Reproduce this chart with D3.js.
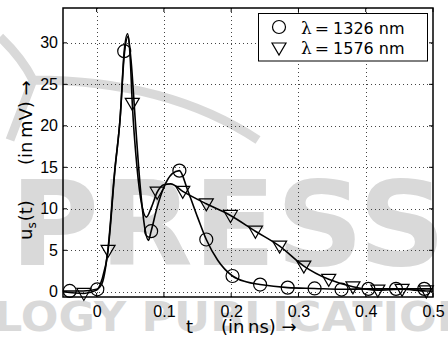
<!DOCTYPE html>
<html>
<head>
<meta charset="utf-8">
<script src="https://cdn.jsdelivr.net/npm/d3@7"></script>
<style>
body { margin: 0; background: #fff; }
svg { display: block; font-family: "Liberation Sans", Arial, sans-serif; }
</style>
</head>
<body>
<div id="chart"></div>
<script>
// markers
var circT = [-0.04, 0.001, 0.041, 0.081, 0.123, 0.163, 0.202, 0.243, 0.284, 0.324, 0.364, 0.404, 0.445, 0.487];
var circV = [0.1, 0.3, 29.0, 7.3, 14.6, 6.3, 1.9, 0.87, 0.5, 0.4, 0.27, 0.35, 0.35, 0.35];
var triT = [-0.019, 0.017, 0.053, 0.09, 0.128, 0.163, 0.199, 0.236, 0.272, 0.308, 0.345, 0.381, 0.418, 0.454, 0.49];
var triV = [-0.2, 5.0, 22.7, 12.0, 12.1, 10.6, 9.2, 7.3, 5.5, 3.1, 1.5, 0.6, 0.2, 0.3, 0.1];

// curves through the samples (estimated)
var circLineT = [-0.05, -0.04, -0.02, 0.0, 0.008, 0.016, 0.027, 0.035, 0.041, 0.046, 0.051, 0.058, 0.065, 0.072, 0.077, 0.081, 0.09, 0.1, 0.112, 0.123, 0.135, 0.15, 0.163, 0.18, 0.202, 0.222, 0.243, 0.284, 0.324, 0.364, 0.404, 0.445, 0.487, 0.5];
var circLineV = [0.1, 0.1, 0.1, 0.3, 1.0, 4.5, 14.7, 21, 29.0, 31.1, 28, 20, 12.5, 7.5, 6.2, 7.3, 10.2, 12.6, 14.2, 14.6, 12.3, 9.0, 6.3, 3.8, 1.9, 1.2, 0.87, 0.5, 0.4, 0.3, 0.35, 0.35, 0.35, 0.35];
var triLineT = [-0.05, -0.019, 0.0, 0.008, 0.017, 0.027, 0.035, 0.041, 0.047, 0.05, 0.053, 0.06, 0.067, 0.074, 0.082, 0.09, 0.1, 0.11, 0.128, 0.163, 0.199, 0.236, 0.272, 0.308, 0.345, 0.381, 0.418, 0.454, 0.49, 0.5];
var triLineV = [0.0, -0.2, 0.2, 1.5, 5.0, 14.5, 21, 28.5, 30.8, 28, 22.7, 15, 10.5, 9.0, 10.3, 12.0, 12.9, 13.0, 12.1, 10.6, 9.2, 7.3, 5.5, 3.1, 1.5, 0.6, 0.2, 0.3, 0.1, 0.1];

var xTicks = [0, 0.1, 0.2, 0.3, 0.4, 0.5];
var xTickLabels = ["0", "0.1", "0.2", "0.3", "0.4", "0.5"];
var yTicks = [0, 5, 10, 15, 20, 25, 30];
var legendLabels = ["1326 nm", "1576 nm"];

var W = 448, H = 340;
var svg = d3.select("#chart").append("svg")
  .attr("width", W)
  .attr("height", H);

var x = d3.scaleLinear().domain([-0.05, 0.5]).range([63, 433]);
var y = d3.scaleLinear().domain([-0.63, 34.2]).range([297, 8]);

// watermark behind everything
var wm = svg.append("g").attr("fill", "#d9d9d9").attr("stroke", "none");
wm.append("text")
  .attr("x", 10).attr("y", 265)
  .attr("textLength", 436).attr("lengthAdjust", "spacingAndGlyphs")
  .style("font-family", "DejaVu Sans").style("font-weight", "bold").style("font-size", "118px")
  .text("PRESS");
wm.append("text")
  .attr("x", -6).attr("y", 331)
  .attr("textLength", 512).attr("lengthAdjust", "spacingAndGlyphs")
  .style("font-family", "DejaVu Sans").style("font-weight", "bold").style("font-size", "40px")
  .text("LOGY PUBLICATIONS");
wm.append("path")
  .attr("d", "M0,37 Q22,58 33,80 M10,140 L33,80 M33,80 C110,80 190,95 258,140")
  .attr("fill", "none").attr("stroke", "#d9d9d9").attr("stroke-width", 9);

// grid
var grid = svg.append("g").attr("stroke", "#444").attr("stroke-width", 1).attr("stroke-dasharray", "1,3");
grid.selectAll(".gx").data(xTicks.filter(function(d){ return d < 0.5; }))
  .enter().append("line")
  .attr("x1", function(d){ return Math.round(x(d)) + 0.5; })
  .attr("x2", function(d){ return Math.round(x(d)) + 0.5; })
  .attr("y1", y.range()[1]).attr("y2", y.range()[0]);
grid.selectAll(".gy").data(yTicks)
  .enter().append("line")
  .attr("y1", function(d){ return Math.round(y(d)) + 0.5; })
  .attr("y2", function(d){ return Math.round(y(d)) + 0.5; })
  .attr("x1", x.range()[0]).attr("x2", x.range()[1]);

// axes
var xAxis = d3.axisBottom(x).tickValues(xTicks).tickSize(0).tickPadding(9)
  .tickFormat(function(d, i){ return xTickLabels[i]; });
var yAxis = d3.axisLeft(y).tickValues(yTicks).tickSize(0).tickPadding(5);

var gx = svg.append("g").attr("transform", "translate(0,297)").call(xAxis);
var gy = svg.append("g").attr("transform", "translate(63,0)").call(yAxis);
[gx, gy].forEach(function(g){
  g.select(".domain").remove();
  g.selectAll("text").attr("fill", "#000").style("font-size", "16px")
    .style("font-family", "Liberation Sans, Arial, sans-serif");
});

// inner tick marks on all four sides
var tk = svg.append("g").attr("stroke", "#000").attr("stroke-width", 1);
xTicks.forEach(function(d){
  tk.append("line").attr("x1", x(d)).attr("x2", x(d)).attr("y1", 297).attr("y2", 293);
  tk.append("line").attr("x1", x(d)).attr("x2", x(d)).attr("y1", 8).attr("y2", 12);
});
yTicks.forEach(function(d){
  tk.append("line").attr("y1", y(d)).attr("y2", y(d)).attr("x1", 63).attr("x2", 67);
  tk.append("line").attr("y1", y(d)).attr("y2", y(d)).attr("x1", 433).attr("x2", 429);
});

// lines
var line = d3.line()
  .x(function(d){ return x(d[0]); })
  .y(function(d){ return y(d[1]); })
  .curve(d3.curveMonotoneX);

var plot = svg.append("g");
plot.append("path")
  .datum(circLineT.map(function(t, i){ return [t, circLineV[i]]; }))
  .attr("d", line).attr("fill", "none").attr("stroke", "#000").attr("stroke-width", 1.6);
plot.append("path")
  .datum(triLineT.map(function(t, i){ return [t, triLineV[i]]; }))
  .attr("d", line).attr("fill", "none").attr("stroke", "#000").attr("stroke-width", 1.6);

var tri = "M-7,-5L7,-5L0,7Z";

plot.selectAll(".circ")
  .data(circT.map(function(t, i){ return [t, circV[i]]; }))
  .enter().append("circle")
  .attr("cx", function(d){ return x(d[0]); })
  .attr("cy", function(d){ return y(d[1]); })
  .attr("r", 6.5)
  .attr("fill", "none").attr("stroke", "#000").attr("stroke-width", 1.2);

plot.selectAll(".tri")
  .data(triT.map(function(t, i){ return [t, triV[i]]; }))
  .enter().append("path")
  .attr("d", tri)
  .attr("transform", function(d){ return "translate(" + x(d[0]) + "," + y(d[1]) + ")"; })
  .attr("fill", "none").attr("stroke", "#000").attr("stroke-width", 1.2);

// frame
svg.append("rect")
  .attr("x", 63).attr("y", 8).attr("width", 370).attr("height", 289)
  .attr("fill", "none").attr("stroke", "#000").attr("stroke-width", 1.5);

// legend
var lg = svg.append("g");
lg.append("rect")
  .attr("x", 258.5).attr("y", 13.5).attr("width", 169).attr("height", 47.5)
  .attr("fill", "#fff").attr("stroke", "#000").attr("stroke-width", 1);
legendLabels.forEach(function(lab, i){
  var cy = 27 + i * 20;
  if (i === 0) {
    lg.append("circle").attr("cx", 279).attr("cy", cy).attr("r", 6.5)
      .attr("fill", "none").attr("stroke", "#000").attr("stroke-width", 1.2);
  } else {
    lg.append("path").attr("d", tri).attr("transform", "translate(279," + (cy + 1) + ")")
      .attr("fill", "none").attr("stroke", "#000").attr("stroke-width", 1.2);
  }
  var t = lg.append("text").attr("x", 301).attr("y", cy + 7)
    .style("font-size", "17px").attr("fill", "#000");
  t.append("tspan").style("font-family", "DejaVu Serif, serif").text("λ");
  t.append("tspan").style("font-family", "DejaVu Serif, serif").attr("dx", 3).text("=");
  t.append("tspan").style("font-family", "DejaVu Sans, sans-serif").style("font-size", "16px").attr("dx", 4).text(lab);
});

// axis titles
var xl = svg.append("text").attr("y", 333).attr("fill", "#000")
  .style("font-family", "DejaVu Sans, sans-serif").style("font-size", "18px");
xl.append("tspan").attr("x", 186).text("t");
xl.append("tspan").attr("x", 221).text("(in\u2009ns) \u2192");

var yl = svg.append("text")
  .attr("transform", "translate(32,240) rotate(-90)")
  .attr("fill", "#000")
  .style("font-family", "DejaVu Sans, sans-serif").style("font-size", "18px");
yl.append("tspan").attr("x", 0).text("u");
yl.append("tspan").attr("dy", 4).style("font-size", "12px").text("s");
yl.append("tspan").attr("dy", -4).attr("dx", 1).text("(t)");
yl.append("tspan").attr("x", 75).text("(in\u2009mV) \u2192");
</script>
</body>
</html>
